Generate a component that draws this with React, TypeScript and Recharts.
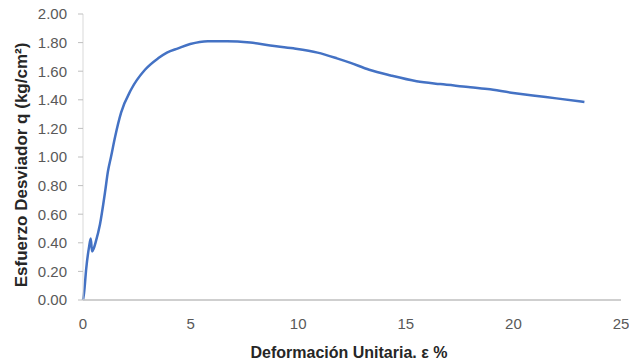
import React from "react";
import { LineChart, Line, XAxis, YAxis, Label } from "recharts";

const strain = [0, 0.05, 0.15, 0.28, 0.36, 0.42, 0.5, 0.58, 0.79, 1.02, 1.16, 1.3, 1.49, 1.77, 2.23, 2.88, 3.49, 3.9, 4.42, 4.98, 5.8, 6.7, 7.77, 8.7, 9.77, 10.9, 11.8, 12.4, 13.3, 14.3, 15.5, 16.6, 17.9, 18.8, 19.9, 20.9, 22.0, 23.3];
const stress = [0, 0.05, 0.22, 0.37, 0.43, 0.34, 0.36, 0.4, 0.53, 0.75, 0.9, 1.0, 1.14, 1.31, 1.47, 1.61, 1.69, 1.73, 1.76, 1.79, 1.81, 1.81, 1.8, 1.78, 1.76, 1.73, 1.69, 1.66, 1.61, 1.57, 1.53, 1.51, 1.49, 1.475, 1.45, 1.43, 1.41, 1.385];
const xTicks = [0, 5, 10, 15, 20, 25];
const yTicks = [0, 0.2, 0.4, 0.6, 0.8, 1.0, 1.2, 1.4, 1.6, 1.8, 2.0];
const xTitle = "Deformación Unitaria. ε %";
const yTitle = "Esfuerzo Desviador q (kg/cm²)";

const data = strain.map((e, i) => ({ e, q: stress[i] }));

const FONT = "'Liberation Sans', Arial, sans-serif";

const YTitle = (props: any) => {
  const vb = props.viewBox || {};
  const cx = 21;
  const cy = vb.y + vb.height / 2 + 8;
  return (
    <text x={cx} y={cy} transform={`rotate(-90, ${cx}, ${cy})`} textAnchor="middle" dominantBaseline="central"
      fontFamily={FONT} fontSize={17} fontWeight="bold" fill="#262626">{yTitle}</text>
  );
};

const XTitle = (props: any) => {
  const vb = props.viewBox || {};
  const cx = vb.x + vb.width / 2 - 3;
  return (
    <text x={cx} y={352} textAnchor="middle" dominantBaseline="central"
      fontFamily={FONT} fontSize={16} fontWeight="bold" fill="#262626">{xTitle}</text>
  );
};

export default function App() {
  return (
    <div style={{ position: "absolute", left: 0, top: 0, width: 629, height: 364, background: "#fff" }}>
      <LineChart width={629} height={364} data={data} margin={{ top: 14, right: 8, bottom: 0, left: 0 }}>
        <XAxis dataKey="e" type="number" domain={[0, 25]} ticks={xTicks} interval={0}
          height={64} tickLine={false} tickSize={0} tickMargin={18}
          axisLine={{ stroke: "#BFBFBF", strokeWidth: 1.5 }}
          tick={{ fill: "#595959", fontSize: 15, fontFamily: FONT }}>
          <Label content={<XTitle />} />
        </XAxis>
        <YAxis dataKey="q" type="number" domain={[0, 2]} ticks={yTicks} interval={0} width={83}
          tickFormatter={(v: number) => v.toFixed(2)}
          tickSize={5} tickMargin={11}
          tickLine={{ stroke: "#BFBFBF" }}
          axisLine={{ stroke: "#D9D9D9", strokeWidth: 1 }}
          tick={{ fill: "#595959", fontSize: 15, fontFamily: FONT }}>
          <Label content={<YTitle />} />
        </YAxis>
        <Line type="monotone" dataKey="q" stroke="#4472C4" strokeWidth={2.5} dot={false} isAnimationActive={false} />
      </LineChart>
    </div>
  );
}
